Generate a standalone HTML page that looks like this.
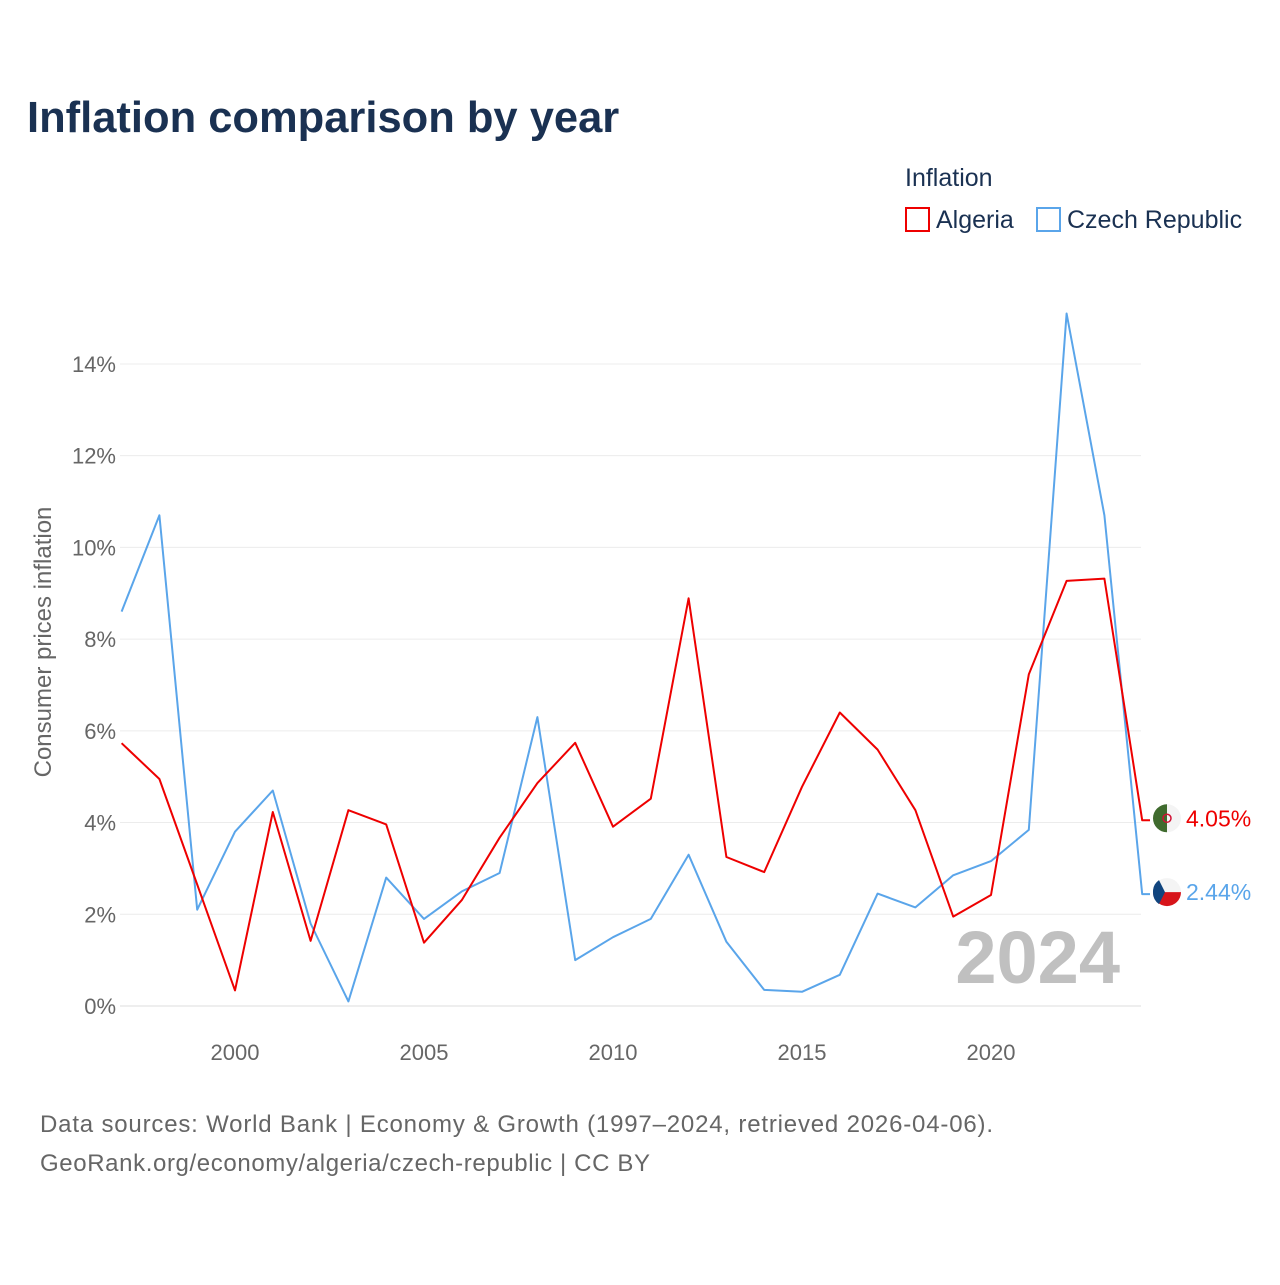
<!DOCTYPE html>
<html><head><meta charset="utf-8"><style>
body{margin:0;background:#fff;font-family:"Liberation Sans",sans-serif;}
svg text{font-family:"Liberation Sans",sans-serif;}
</style></head><body>
<svg id="chart" width="1280" height="1280" viewBox="0 0 1280 1280" xmlns="http://www.w3.org/2000/svg">
<rect width="1280" height="1280" fill="#fff"/>
<text x="27" y="132" font-size="43.5" font-weight="bold" fill="#1a3152">Inflation comparison by year</text>
<text x="905" y="186" font-size="25" fill="#1a3152">Inflation</text>
<g><rect x="906" y="208" width="23" height="23" fill="none" stroke="#ee0000" stroke-width="2"/><text x="936" y="228" font-size="25" fill="#1a3152">Algeria</text></g>
<g><rect x="1037" y="208" width="23" height="23" fill="none" stroke="#5aa5ea" stroke-width="2"/><text x="1067" y="228" font-size="25" fill="#1a3152">Czech Republic</text></g>
<text transform="translate(51,642) rotate(-90)" text-anchor="middle" font-size="24" fill="#666">Consumer prices inflation</text>
<g id="grid"></g><g id="series"></g>
<text x="1120" y="983" text-anchor="end" font-size="74" font-weight="bold" fill="#c0c0c0">2024</text>
<text x="40" y="1132" font-size="24" fill="#666" textLength="953" lengthAdjust="spacing">Data sources: World Bank | Economy &amp; Growth (1997–2024, retrieved 2026-04-06).</text>
<text x="40" y="1171" font-size="24" fill="#666" textLength="610" lengthAdjust="spacing">GeoRank.org/economy/algeria/czech-republic | CC BY</text>
</svg>
<script>
const years=[1997,1998,1999,2000,2001,2002,2003,2004,2005,2006,2007,2008,2009,2010,2011,2012,2013,2014,2015,2016,2017,2018,2019,2020,2021,2022,2023,2024];
const algeria=[5.73,4.95,2.65,0.34,4.23,1.42,4.27,3.96,1.38,2.31,3.67,4.86,5.74,3.91,4.52,8.89,3.25,2.92,4.78,6.40,5.59,4.27,1.95,2.42,7.23,9.27,9.32,4.05];
const czech=[8.6,10.7,2.1,3.8,4.7,1.8,0.1,2.8,1.9,2.5,2.9,6.3,1.0,1.5,1.9,3.3,1.4,0.35,0.31,0.68,2.45,2.15,2.85,3.16,3.84,15.1,10.7,2.44];
const yTicks=[0,2,4,6,8,10,12,14];
const xTicks=[2000,2005,2010,2015,2020];
const NS="http://www.w3.org/2000/svg";
const x=v=>121.6+(v-1997)*37.8;
const y=v=>1006-v*45.86;
const grid=document.getElementById('grid'),ser=document.getElementById('series');
function mk(tag,attrs,parent){const e=document.createElementNS(NS,tag);for(const k in attrs)e.setAttribute(k,attrs[k]);parent.appendChild(e);return e;}
yTicks.forEach(t=>{
 const l=mk('line',{x1:120,x2:1141,y1:y(t),y2:y(t),stroke:t===0?'#ddd':'#ececec','stroke-width':1},grid);
 
 
 const tx=mk('text',{x:116,y:y(t)+8,'text-anchor':'end','font-size':22,fill:'#666'},grid);
 tx.textContent=t+'%';
 
 
});
xTicks.forEach(t=>{
 const tx=mk('text',{x:x(t),y:1060,'text-anchor':'middle','font-size':22,fill:'#666'},grid);
 tx.textContent=t;
 
 
});
function line(vals,color,name){
 let d=vals.map((v,i)=>(i?'L':'M')+x(years[i]).toFixed(1)+','+y(v).toFixed(1)).join(' ');
 d+=' H1150';
 const p=mk('path',{d:d,fill:'none',stroke:color,'stroke-width':2,'stroke-linejoin':'round'},ser);
 
 
}
line(czech,'#5aa5ea','czech-republic-line');
line(algeria,'#ee0000','algeria-line');
function endLabel(v,color,name,flag){
 const cy=y(v)-2;
 const g=mk('g',{},ser);
 
 
 const cx=1167;
 if(flag==='dz'){
  mk('circle',{cx:cx,cy:cy,r:14,fill:'#f4f4f4'},g);
  mk('path',{d:`M${cx},${cy-14} A14,14 0 0 0 ${cx},${cy+14} Z`,fill:'#3f6b2e'},g);
  mk('circle',{cx:cx,cy:cy,r:4,fill:'none',stroke:'#d21034','stroke-width':1.5},g);
 }else{
  mk('path',{d:`M${cx-14},${cy} A14,14 0 0 1 ${cx+14},${cy} Z`,fill:'#f4f4f4'},g);
  mk('path',{d:`M${cx-14},${cy} A14,14 0 0 0 ${cx+14},${cy} Z`,fill:'#d7141a'},g);
  mk('path',{d:`M${cx-14},${cy} L${cx-2},${cy} L${cx-8},${cy-12} A14,14 0 0 0 ${cx-14},${cy} M${cx-14},${cy} L${cx-2},${cy} L${cx-8},${cy+12} A14,14 0 0 1 ${cx-14},${cy}`,fill:'#11457e'},g);
 }
 const t=mk('text',{x:1186,y:cy+8,'font-size':23,fill:color},g);
 t.textContent=v.toFixed(2)+'%';
}
endLabel(algeria[algeria.length-1],'#ee0000','algeria-end-label','dz');
endLabel(czech[czech.length-1],'#5aa5ea','czech-end-label','cz');
</script>
</body></html>
